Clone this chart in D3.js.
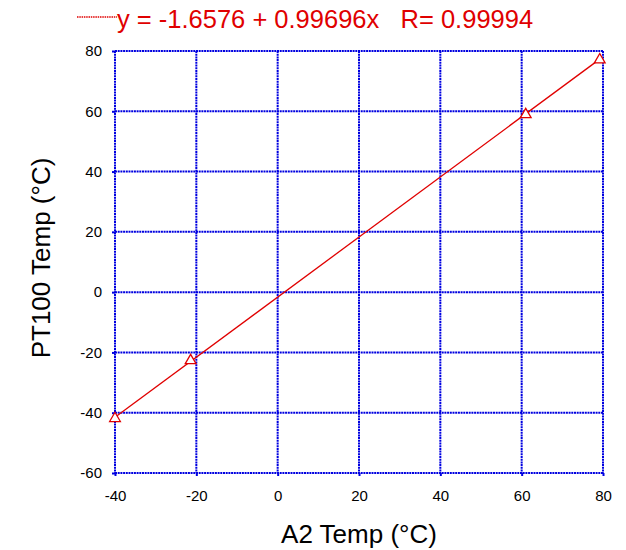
<!DOCTYPE html>
<html>
<head>
<meta charset="utf-8">
<script src="https://cdn.jsdelivr.net/npm/d3@7"></script>
<style>
  body { margin: 0; background: #fff; }
  svg text { font-family: "Liberation Sans", Arial, sans-serif; }
</style>
</head>
<body>
<div id="chart"></div>
<script>
// measured points (A2 vs PT100)
const a2Temp = [-40, -21.4, 61, 79.2];
const pt100Temp = [-41.9, -22.7, 58.9, 77.1];
const fitIntercept = -1.6576, fitSlope = 0.99696, fitR = 0.99994;
const xTicks = [-40, -20, 0, 20, 40, 60, 80];
const yTicks = [-60, -40, -20, 0, 20, 40, 60, 80];

const W = 626, H = 550;
const margin = {top: 51, right: 23, bottom: 77, left: 115};
const width = W - margin.left - margin.right,
      height = H - margin.top - margin.bottom;

const svg = d3.select('#chart').append('svg')
  .attr('width', W).attr('height', H);

const g = svg.append('g').attr('transform', `translate(${margin.left},${margin.top})`);

const x = d3.scaleLinear().domain([-40, 80]).range([0, width]);
const y = d3.scaleLinear().domain([-60, 80]).range([height, 0]);

const gridStyle = sel => sel.attr('stroke', '#0000e0').attr('stroke-width', 2)
  .attr('stroke-dasharray', '2,0.7').attr('fill', 'none');

// grid + frame
g.selectAll('.vgrid').data(xTicks).enter().append('line')
  .attr('x1', d => x(d)).attr('x2', d => x(d))
  .attr('y1', 0).attr('y2', height).call(gridStyle);
g.selectAll('.hgrid').data(yTicks).enter().append('line')
  .attr('y1', d => y(d)).attr('y2', d => y(d))
  .attr('x1', 0).attr('x2', width).call(gridStyle);

// axes (labels + short ticks), plain hyphen minus like the original
const fmt = d => String(d);
const xAxis = g.append('g').attr('transform', `translate(0,${height})`)
  .call(d3.axisBottom(x).tickValues(xTicks).tickSize(3).tickPadding(14).tickFormat(fmt));
const yAxis = g.append('g')
  .call(d3.axisLeft(y).tickValues(yTicks).tickSize(3).tickPadding(10).tickFormat(fmt));
[xAxis, yAxis].forEach(a => {
  a.select('.domain').remove();
  a.selectAll('line').attr('stroke', '#0000e0').attr('stroke-width', 2);
  a.selectAll('text').attr('font-size', 15).attr('fill', '#000')
    .attr('font-family', '"Liberation Sans", Arial, sans-serif');
});

// fit line
const xMin = d3.min(a2Temp), xMax = d3.max(a2Temp);
g.append('line')
  .attr('x1', x(xMin)).attr('y1', y(fitIntercept + fitSlope * xMin))
  .attr('x2', x(xMax)).attr('y2', y(fitIntercept + fitSlope * xMax))
  .attr('stroke', '#e00000').attr('stroke-width', 1.3);

// triangle markers
const tri = d3.symbol().type(d3.symbolTriangle).size(50);
g.selectAll('.pt').data(a2Temp).enter().append('path')
  .attr('d', tri)
  .attr('transform', (d, i) => `translate(${x(d)},${y(pt100Temp[i])})`)
  .attr('fill', '#fff').attr('stroke', '#e00000').attr('stroke-width', 1.3);

// legend / equation
svg.append('line').attr('x1', 77).attr('x2', 117).attr('y1', 17).attr('y2', 17)
  .attr('stroke', '#e00000').attr('stroke-width', 1.3).attr('stroke-dasharray', '1.5,0.8');
svg.append('text').attr('x', 117).attr('y', 28).attr('font-size', 25.5).attr('fill', '#e00000')
  .attr('xml:space', 'preserve')
  .text(`y = ${fitIntercept} + ${fitSlope}x   R= ${fitR}`);

// axis titles
svg.append('text').attr('x', 359).attr('y', 543)
  .attr('text-anchor', 'middle').attr('font-size', 26).attr('fill', '#000')
  .text('A2 Temp (°C)');
svg.append('text').attr('transform', `translate(50,${258}) rotate(-90)`)
  .attr('text-anchor', 'middle').attr('font-size', 26).attr('fill', '#000')
  .text('PT100 Temp (°C)');
</script>
</body>
</html>
